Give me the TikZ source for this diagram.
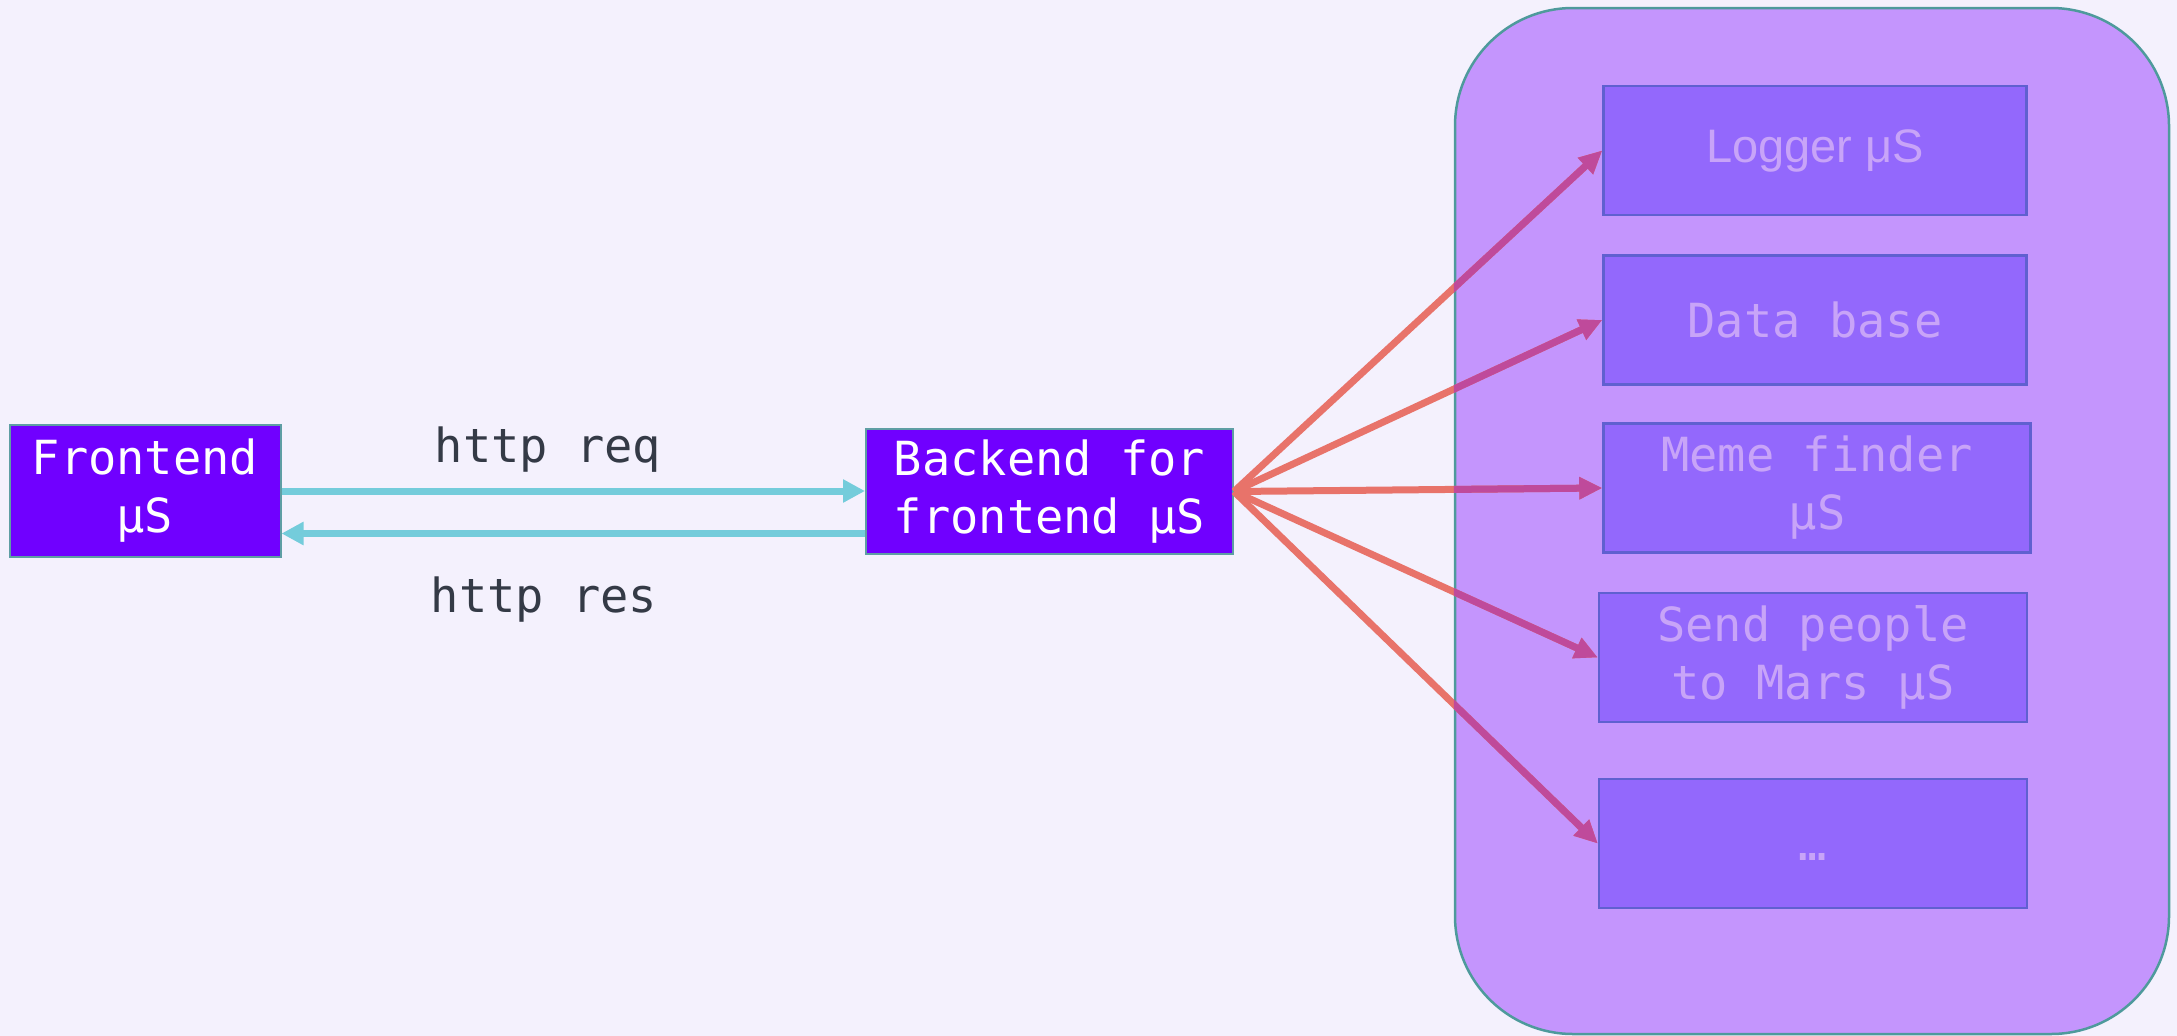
\documentclass[tikz,border=0pt]{standalone}
\usepackage{fontspec}
\setmainfont{Liberation Sans}
\newfontfamily\monof{DejaVu Sans Mono}
\usetikzlibrary{arrows.meta}
\definecolor{bgc}{HTML}{F4F1FD}
\definecolor{mainfill}{HTML}{7000FF}
\definecolor{mainborder}{HTML}{5E9EA4}
\definecolor{contfill}{HTML}{C495FD}
\definecolor{contborder}{HTML}{4E9A9C}
\definecolor{subfill}{HTML}{9368FC}
\definecolor{subborder}{HTML}{6060D0}
\definecolor{subtext}{HTML}{C8A4F8}
\definecolor{cyanl}{HTML}{74CCDB}
\definecolor{salmon}{HTML}{E8736A}
\definecolor{magen}{HTML}{BF4A9B}
\definecolor{labtext}{HTML}{343A46}
\begin{document}
\begin{tikzpicture}[x=1pt,y=-1pt,
  monofont/.style={font={\monof\fontsize{47}{58}\selectfont}},
  mainbox/.style={draw=mainborder, line width=2pt, fill=mainfill, text=white, monofont, align=center, inner sep=0pt},
  container/.style={draw=contborder, line width=2.5pt, fill=contfill, rounded corners=118pt, inner sep=0pt, minimum width=714pt, minimum height=1026pt},
  subbox/.style={draw=subborder, line width=2.5pt, fill=subfill, text=subtext, monofont, align=center, inner sep=0pt, minimum height=129pt},
  httpline/.style={draw=cyanl, line width=7pt, -{Triangle[length=22pt,width=22pt]}},
  fanline/.style={line width=7pt, -{Triangle[length=23pt,width=21pt]}},
  lab/.style={text=labtext, monofont, anchor=base, inner sep=0pt}
]
\useasboundingbox (0,0) rectangle (2177,1036);
\fill[bgc] (0,0) rectangle (2177,1036);

% container
\node[container] (cont) at (1812,521) {};

% boxes
\node[mainbox, minimum width=271pt, minimum height=132pt] (fe) at (145,491) {Frontend\\μS};
\node[mainbox, minimum width=367pt, minimum height=125pt] (be) at (1049.5,491.5) {Backend for\\frontend μS};

\node[subbox, minimum width=423pt, font={\fontsize{47}{58}\selectfont}] (log) at (1815,150.5) {Logger μS};
\node[subbox, minimum width=423pt] (db) at (1815,320) {Data base};
\node[subbox, minimum width=427pt] (meme) at (1817,488) {Meme finder\\μS};
\node[subbox, minimum width=428pt] (mars) at (1813,657.5) {Send people\\to Mars μS};
\node[subbox, minimum width=428pt] (more) at (1813,843.5) {\raisebox{-17pt}[0pt][0pt]{…}};

% http arrows
\draw[httpline] (fe.east) -- (fe.east -| be.west);
\draw[httpline] ([yshift=-42pt]be.west) -- ([yshift=-42pt]be.west -| fe.east);
\node[lab] (lreq) at (548,462) {http req};
\node[lab] (lres) at (544,612) {http res};

% fan-out arrows
\foreach \t in {log,db,meme,mars,more}
  \draw[fanline, draw=salmon, fill=salmon] (be.east) -- (\t.west);
\begin{scope}
  \clip[rounded corners=118pt] (cont.north west) rectangle (cont.south east);
  \foreach \t in {log,db,meme,mars,more}
    \draw[fanline, draw=magen, fill=magen] (be.east) -- (\t.west);
\end{scope}
\end{tikzpicture}
\end{document}
